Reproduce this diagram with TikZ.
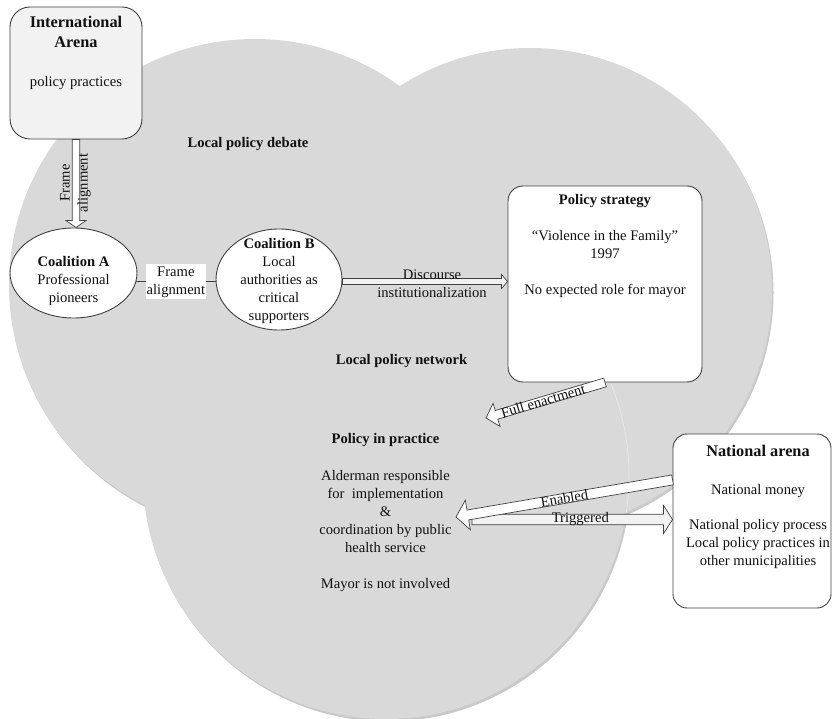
\documentclass[tikz,border=0pt]{standalone}
\usepackage{fontspec}
\setmainfont{Liberation Serif}
\usetikzlibrary{shapes.geometric,calc}
\definecolor{bggray}{HTML}{D9D9D9}
\definecolor{shadowgray}{HTML}{C9C9C9}
\definecolor{boxline}{HTML}{404040}
\definecolor{lightfill}{HTML}{F2F2F2}
\definecolor{txtcol}{HTML}{111111}
% block arrow: #1 style, #2 start, #3 tip, #4 half shaft, #5 half head, #6 head length
\newcommand{\myblockarrow}[6]{%
  \coordinate (bah) at ($(#3)!#6!(#2)$);
  \draw[#1] ($(#2)!#4!90:(#3)$) -- ($(bah)!#4!90:(#3)$) -- ($(bah)!#5!90:(#3)$)
    -- (#3) -- ($(bah)!#5!-90:(#3)$) -- ($(bah)!#4!-90:(#3)$) -- ($(#2)!#4!-90:(#3)$) -- cycle;}
\tikzset{
  boxnode/.style={rectangle, draw=boxline, line width=0.9pt, inner sep=0pt},
  ellnode/.style={ellipse, draw=boxline, fill=white, line width=0.9pt, inner sep=0pt},
  txt/.style={align=center, inner sep=0pt, text=txtcol},
  hd/.style={inner sep=0pt, text=txtcol, font=\fontsize{14.6}{18}\selectfont\bfseries},
  barrow/.style={draw=boxline, line width=0.7pt, fill=white, line join=miter},
  lbl/.style={inner sep=0pt, text=txtcol},
}
\newcommand{\bighd}[1]{{\fontsize{16.3}{20}\selectfont\bfseries #1}}
\begin{document}
\begin{tikzpicture}[x=1pt, y=-1pt, font=\fontsize{14.6}{18}\selectfont]
\useasboundingbox (0,0) rectangle (833,719);
% background cloud of three circles
\begin{scope}[shift={(1.5,2.5)}]
  \fill[shadowgray] (255,285) circle[radius=246pt] (530,290) circle[radius=242pt] (386,476) circle[radius=243pt];
\end{scope}
\fill[bggray] (255,285) circle[radius=246pt] (530,290) circle[radius=242pt] (386,476) circle[radius=243pt];
\begin{scope}
  \clip (560,385) rectangle (700,512);
  \draw[white, opacity=0.35, line width=0.8pt] (386,476) circle[radius=243pt];
\end{scope}

% boxes
\node[boxnode, rounded corners=20pt, fill=lightfill, minimum width=132pt, minimum height=132pt] (intl) at (76,73) {};
\node[boxnode, rounded corners=15pt, fill=white, minimum width=194pt, minimum height=196pt] (strat) at (605,284) {};
\node[boxnode, rounded corners=14pt, fill=white, minimum width=158pt, minimum height=174pt] (natl) at (752,521) {};
\node[ellnode, minimum width=127pt, minimum height=90pt] (coalA) at (73.5,273) {};
\node[ellnode, minimum width=126pt, minimum height=101pt] (coalB) at (279,279.5) {};

% connector A - B
\coordinate (ab-s) at (coalA.-8);
\coordinate (ab-e) at (ab-s -| coalB.west);
\draw[boxline, line width=0.8pt] (ab-s) -- (ab-e)
  node[midway, fill=white, inner xsep=1pt, inner ysep=2pt, align=center, text=txtcol] (ablbl) {Frame\\alignment};

% block arrows
\coordinate (fa-e) at (intl.south |- coalA.north);
\myblockarrow{barrow}{intl.south}{fa-e}{3.8pt}{10pt}{7pt}
\coordinate (dc-s) at ($(coalB.east)+(0,2)$);
\coordinate (dc-e) at (dc-s -| strat.west);
\myblockarrow{barrow, fill=lightfill}{dc-s}{dc-e}{3pt}{7pt}{6pt}
\coordinate (fe-tip) at (486,418);
\myblockarrow{barrow}{strat.south}{fe-tip}{4.5pt}{12pt}{11pt}
\coordinate (tr-s) at (472,519.5);
\coordinate (tr-e) at (tr-s -| natl.west);
\myblockarrow{barrow, fill=lightfill}{tr-s}{tr-e}{5.2pt}{14pt}{9pt}
\coordinate (en-s) at ($(natl.north west)!0.265!(natl.south west)$);
\coordinate (en-tip) at (456,517);
\myblockarrow{barrow}{en-s}{en-tip}{5pt}{15pt}{12pt}

% arrow labels
\node[lbl, align=center, rotate=90] (falbl) at (75.5,183) {Frame\\alignment};
\node[lbl, align=center] (dclbl) at (432,283.5) {Discourse\\institutionalization};
\path (fe-tip) -- (strat.south) node[lbl, pos=0.48, sloped] (felbl) {Full enactment};
\path (en-tip) -- (en-s) node[lbl, pos=0.5, sloped] (enlbl) {Enabled};
\path (tr-s) -- (tr-e) node[lbl, pos=0.54] (trlbl) {Triggered};

% texts
\node[txt, font=\fontsize{14.6}{20}\selectfont] (intltxt) at (76,53.2) {\bighd{International}\\\bighd{Arena}\\[19pt]policy practices};
\node[txt] (coalAtxt) at (73.5,281.3) {\textbf{Coalition A}\\Professional\\pioneers};
\node[txt] (coalBtxt) at (279,281.3) {\textbf{Coalition B}\\Local\\authorities as\\critical\\supporters};
\node[txt] (strattxt) at (605,246.3) {\textbf{Policy strategy}\\[18pt]“Violence in the Family”\\1997\\[18pt]No expected role for mayor};
\node[txt] (natltxt) at (758,506.5) {\bighd{National arena}\\[20pt]National money\\[17pt]National policy process\\Local policy practices in\\other municipalities};
\node[hd] (debate) at (248,144.3) {Local policy debate};
\node[hd] (network) at (401.5,360.7) {Local policy network};
\node[hd] (practice) at (385.5,440) {Policy in practice};
\node[txt] (practicetxt) at (385.5,531) {Alderman responsible\\for\ \ implementation\\\&\\coordination by public\\health service\\[18pt]Mayor is not involved};
\end{tikzpicture}
\end{document}
